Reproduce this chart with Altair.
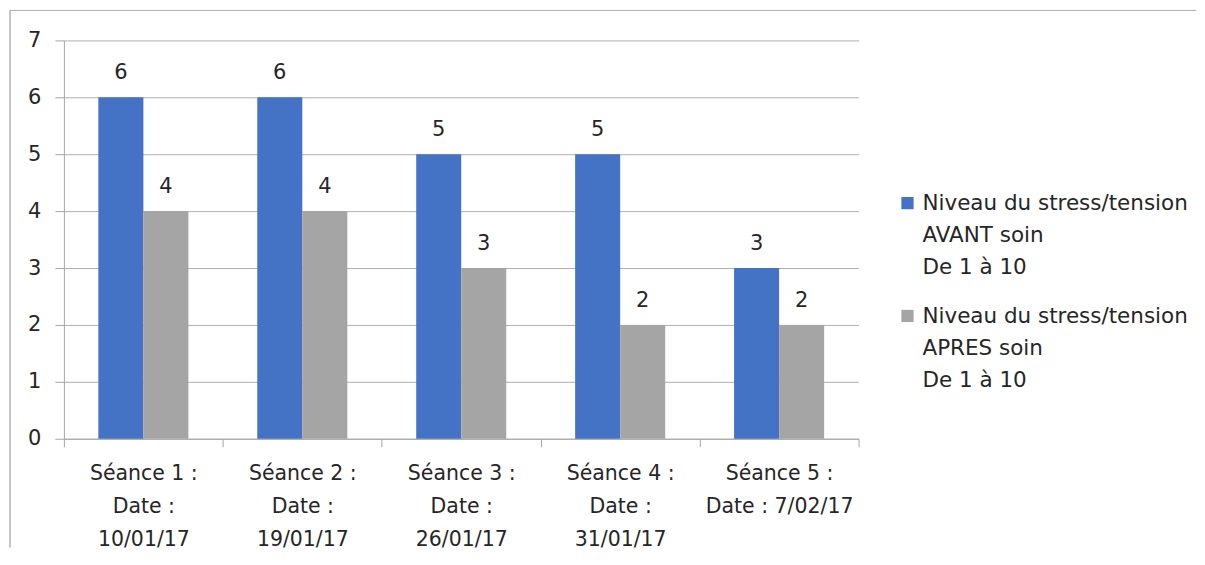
import altair as alt
import pandas as pd

categories = [
    "Séance 1 :\nDate :\n10/01/17",
    "Séance 2 :\nDate :\n19/01/17",
    "Séance 3 :\nDate :\n26/01/17",
    "Séance 4 :\nDate :\n31/01/17",
    "Séance 5 :\nDate : 7/02/17",
]
series = [
    "Niveau du stress/tension\nAVANT soin\nDe 1 à 10",
    "Niveau du stress/tension\nAPRES soin\nDe 1 à 10",
]
avant = [6, 6, 5, 5, 3]
apres = [4, 4, 3, 2, 2]
colors = ["#4472C4", "#A5A5A5"]

rows = []
for c, a, b in zip(categories, avant, apres):
    rows.append({"cat": c, "serie": series[0], "val": a})
    rows.append({"cat": c, "serie": series[1], "val": b})
df = pd.DataFrame(rows)
leg_df = pd.DataFrame({"serie": series})

FONT = "DejaVu Sans"
W, H = 796, 399

color = alt.Color("serie:N", scale=alt.Scale(domain=series, range=colors), legend=None)

x = alt.X(
    "cat:N",
    sort=categories,
    title=None,
    scale=alt.Scale(paddingInner=0, paddingOuter=0),
    axis=alt.Axis(
        labelAngle=0,
        labelExpr="split(datum.label, '\\n')",
        labelLineHeight=33,
        labelFontSize=20.5,
        labelFont=FONT,
        labelColor="#262626",
        labelBaseline="top",
        labelPadding=17,
        tickBand="extent",
        tickSize=8,
        tickColor="#a6a6a6",
        domainColor="#a6a6a6",
        grid=False,
        labelLimit=300,
    ),
)
xoff = alt.XOffset("serie:N", sort=series, scale=alt.Scale(paddingInner=0, paddingOuter=0.765))
y = alt.Y(
    "val:Q",
    title=None,
    scale=alt.Scale(domain=[0, 7], nice=False),
    axis=alt.Axis(
        values=[0, 1, 2, 3, 4, 5, 6, 7],
        labelFontSize=21,
        labelFont=FONT,
        labelColor="#262626",
        labelPadding=14,
        tickSize=9,
        tickColor="#a6a6a6",
        domainColor="#a6a6a6",
        gridColor="#b0b0b0",
    ),
)

base = alt.Chart(df)
bars = base.mark_bar().encode(x=x, xOffset=xoff, y=y, color=color)
labels = base.mark_text(
    fontSize=21, font=FONT, color="#262626", baseline="alphabetic", dy=-18
).encode(x=x, xOffset=xoff, y=y, text="val:Q")

border_top = alt.Chart(leg_df).mark_rule(color="#b4b4b4", strokeWidth=1).encode(
    x=alt.value(-54), x2=alt.value(1134), y=alt.value(-30)
)
border_left = alt.Chart(leg_df).mark_rule(color="#b4b4b4", strokeWidth=1).encode(
    x=alt.value(-54), y=alt.value(-30), y2=alt.value(508)
)

main = alt.layer(bars, labels, border_top, border_left).properties(width=W, height=H)

ly = alt.Y(
    "serie:N",
    scale=alt.Scale(type="point", domain=series, range=[163, 276], padding=0),
    axis=None,
)
leg_sq = alt.Chart(leg_df).mark_square(size=150, opacity=1).encode(
    x=alt.value(49), y=ly, color=color
)
leg_tx = alt.Chart(leg_df).mark_text(
    align="left", baseline="alphabetic", dy=7, lineBreak="\n", lineHeight=32,
    fontSize=21.5, font=FONT, color="#262626",
).encode(x=alt.value(64), y=ly, text="serie:N")
legend = alt.layer(leg_sq, leg_tx).properties(width=330, height=H)

chart = (
    alt.hconcat(main, legend, spacing=0, bounds="flush")
    .properties(padding={"left": 1, "top": 1, "right": 0, "bottom": 0}, background="white")
    .configure_view(stroke="transparent", strokeWidth=0)
)

chart.save("out.html", embed_options={"renderer": "svg", "actions": False})
